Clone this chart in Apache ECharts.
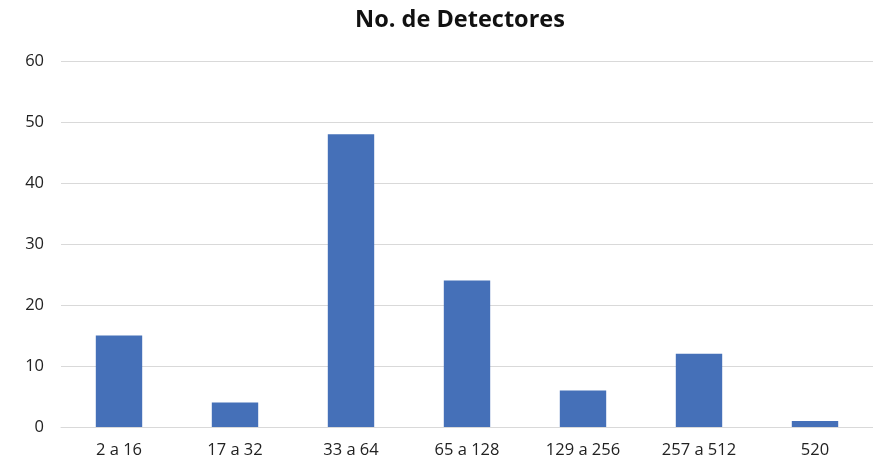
<!DOCTYPE html>
<html><head><meta charset="utf-8">
<script src="https://cdn.jsdelivr.net/npm/echarts@6/dist/echarts.min.js"></script>
<style>html,body{margin:0;padding:0;background:#fff}#c{width:873px;height:471px}</style>
</head><body><div id="c"></div>
<script>
const categories = ["2 a 16","17 a 32","33 a 64","65 a 128","129 a 256","257 a 512","520"];
const values = [15, 4, 48, 24, 6, 12, 1];
const yTicks = {min: 0, max: 60, interval: 10};
const titleText = "No. de Detectores";

const chart = echarts.init(document.getElementById('c'), null, {renderer: 'canvas'});
chart.setOption({
  animation: false,
  backgroundColor: '#fff',
  title: {text: titleText, left: 455, textAlign: 'center', top: 3,
    textStyle: {fontFamily: 'Open Sans', fontWeight: 'bold', fontSize: 23.5, color: '#111'}},
  grid: {left: 61, right: 0, top: 61, bottom: 44, containLabel: false},
  xAxis: {type: 'category', data: categories,
    axisLine: {show: true, lineStyle: {color: '#d9d9d9', width: 1}},
    axisTick: {show: false},
    axisLabel: {color: '#222', fontFamily: 'Open Sans', fontSize: 16.5, margin: 15}},
  yAxis: {type: 'value', min: yTicks.min, max: yTicks.max, interval: yTicks.interval,
    axisLine: {show: false}, axisTick: {show: false},
    splitLine: {lineStyle: {color: '#d9d9d9', width: 1}},
    axisLabel: {color: '#222', fontFamily: 'Open Sans', fontSize: 16.5, margin: 17}},
  series: [{type: 'bar', data: values, barWidth: '40%',
    itemStyle: {color: '#4570B8'}}]
});
</script></body></html>
